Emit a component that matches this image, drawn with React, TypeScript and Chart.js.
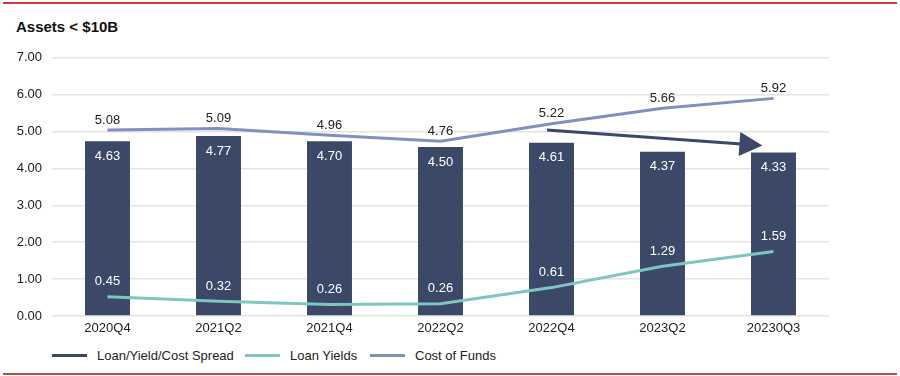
import React, { useEffect, useRef } from "react";
import { Chart, registerables } from "chart.js";

Chart.register(...registerables);

const categories = ["2020Q4", "2021Q2", "2021Q4", "2022Q2", "2022Q4", "2023Q2", "20230Q3"];
const spreadValues = [4.74, 4.88, 4.74, 4.58, 4.7, 4.45, 4.43];
const spreadLabels = ["4.63", "4.77", "4.70", "4.50", "4.61", "4.37", "4.33"];
const loanYieldValues = [0.52, 0.4, 0.31, 0.33, 0.77, 1.35, 1.75];
const loanYieldLabels = ["0.45", "0.32", "0.26", "0.26", "0.61", "1.29", "1.59"];
const costOfFundsValues = [5.04, 5.08, 4.9, 4.74, 5.21, 5.63, 5.9];
const costOfFundsLabels = ["5.08", "5.09", "4.96", "4.76", "5.22", "5.66", "5.92"];
const yTicks = [0, 1, 2, 3, 4, 5, 6, 7];
const seriesNames = ["Loan/Yield/Cost Spread", "Loan Yields", "Cost of Funds"];
// trend arrow annotation (category index, value)
const arrowStart = [3.96, 5.04];
const arrowEnd = [5.9, 4.62];

const FONT = "'Liberation Sans', Arial, Helvetica, sans-serif";
const BAR = "#3b4868";
const TEAL = "#7ec6bf";
const LAV = "#8190bf";
const seriesColors = [BAR, TEAL, LAV];
const legendSwatchX = [52, 245, 370];

const labelPlugin = {
  id: "valueLabels",
  afterDatasetsDraw(chart: any) {
    const ctx = chart.ctx;
    ctx.save();
    ctx.font = `13px ${FONT}`;
    ctx.textAlign = "center";
    ctx.textBaseline = "middle";
    const barMeta = chart.getDatasetMeta(0);
    const lyMeta = chart.getDatasetMeta(1);
    const cfMeta = chart.getDatasetMeta(2);
    barMeta.data.forEach((el: any, i: number) => {
      ctx.fillStyle = "#ffffff";
      ctx.fillText(spreadLabels[i], el.x, el.y + 15);
    });
    lyMeta.data.forEach((el: any, i: number) => {
      ctx.fillStyle = "#ffffff";
      ctx.fillText(loanYieldLabels[i], el.x, el.y - 15);
    });
    cfMeta.data.forEach((el: any, i: number) => {
      ctx.fillStyle = "#222222";
      ctx.fillText(costOfFundsLabels[i], el.x, el.y - 10);
    });
    // arrow
    const xs = chart.scales.x;
    const ys = chart.scales.y;
    const x1 = xs.getPixelForValue(arrowStart[0]);
    const y1 = ys.getPixelForValue(arrowStart[1]);
    const x2 = xs.getPixelForValue(arrowEnd[0]);
    const y2 = ys.getPixelForValue(arrowEnd[1]);
    const dx = x2 - x1;
    const dy = y2 - y1;
    const len = Math.sqrt(dx * dx + dy * dy);
    const ux = dx / len;
    const uy = dy / len;
    const headLen = 23;
    const headHalf = 12;
    const bx = x2 - ux * headLen;
    const by = y2 - uy * headLen;
    ctx.strokeStyle = BAR;
    ctx.fillStyle = BAR;
    ctx.lineWidth = 3;
    ctx.beginPath();
    ctx.moveTo(x1, y1);
    ctx.lineTo(bx + ux * 2, by + uy * 2);
    ctx.stroke();
    ctx.beginPath();
    ctx.moveTo(x2, y2);
    ctx.lineTo(bx - uy * headHalf, by + ux * headHalf);
    ctx.lineTo(bx + uy * headHalf, by - ux * headHalf);
    ctx.closePath();
    ctx.fill();
    ctx.restore();
  },
};

export default function App() {
  const ref = useRef<HTMLCanvasElement | null>(null);

  useEffect(() => {
    document.body.style.margin = "0";
    if (!ref.current) return;
    const chart = new Chart(ref.current, {
      type: "bar",
      data: {
        labels: categories,
        datasets: [
          {
            type: "bar",
            label: seriesNames[0],
            data: spreadValues,
            backgroundColor: BAR,
            borderColor: BAR,
            borderWidth: 0,
            barPercentage: 0.81,
            categoryPercentage: 0.5,
            order: 2,
          },
          {
            type: "line",
            label: seriesNames[1],
            data: loanYieldValues,
            borderColor: TEAL,
            backgroundColor: TEAL,
            borderWidth: 3,
            pointRadius: 0,
            tension: 0,
            order: 1,
          },
          {
            type: "line",
            label: seriesNames[2],
            data: costOfFundsValues,
            borderColor: LAV,
            backgroundColor: LAV,
            borderWidth: 3,
            pointRadius: 0,
            tension: 0,
            order: 1,
          },
        ] as any,
      },
      options: {
        animation: false,
        responsive: false,
        devicePixelRatio: 1,
        layout: { padding: { left: 0, right: 71, top: 11, bottom: 4.4 } },
        scales: {
          x: {
            grid: { display: false, drawTicks: false, tickLength: 0 },
            border: { display: false },
            ticks: { color: "#222", font: { family: FONT, size: 13 }, padding: 5 },
          },
          y: {
            min: 0,
            max: 7,
            afterBuildTicks: (s: any) => {
              s.ticks = yTicks.map((v) => ({ value: v }));
            },
            grid: { color: "#e4e4e4", lineWidth: 1.5, drawTicks: false },
            border: { display: false },
            ticks: {
              color: "#222",
              font: { family: FONT, size: 13 },
              padding: 10,
              callback: (v: any) => Number(v).toFixed(2),
            },
            afterFit: (s: any) => {
              s.width = 52;
            },
          },
        },
        plugins: {
          title: { display: false },
          tooltip: { enabled: false },
          legend: { display: false },
        },
      } as any,
      plugins: [labelPlugin],
    });
    return () => chart.destroy();
  }, []);

  return (
    <div style={{ position: "relative", width: 900, height: 376, background: "#fff", overflow: "hidden" }}>
      <canvas ref={ref} width={900} height={306} style={{ position: "absolute", left: 0, top: 40 }} />
      <div style={{ position: "absolute", left: 3, right: 3, top: 2, height: 2, background: "#d8363c" }} />
      <div
        style={{
          position: "absolute",
          left: 16,
          top: 18,
          fontFamily: FONT,
          fontWeight: "bold",
          fontSize: 15,
          lineHeight: "17px",
          color: "#111",
        }}
      >
        Assets &lt; $10B
      </div>
      {seriesNames.map((name, i) => (
        <div
          key={name}
          style={{
            position: "absolute",
            left: legendSwatchX[i],
            top: 346,
            height: 18,
            display: "flex",
            alignItems: "center",
            fontFamily: FONT,
            fontSize: 13,
            color: "#222",
            whiteSpace: "nowrap",
          }}
        >
          <span style={{ display: "inline-block", width: 35, height: 3, background: seriesColors[i], marginRight: 10 }} />
          <span>{name}</span>
        </div>
      ))}
      <div style={{ position: "absolute", left: 3, right: 3, top: 373, height: 2, background: "#b5504f" }} />
    </div>
  );
}
